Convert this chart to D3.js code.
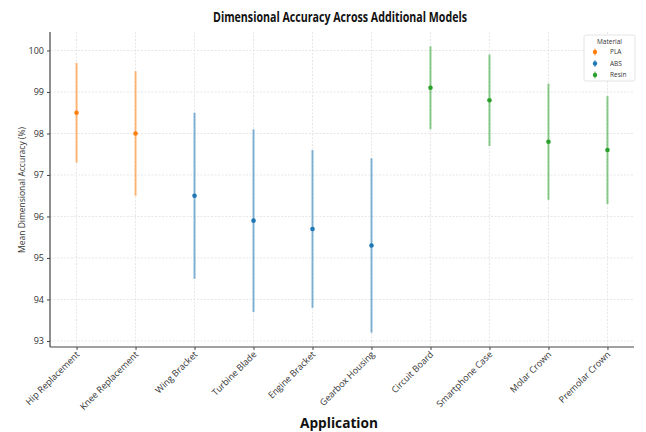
<!DOCTYPE html>
<html><head><meta charset="utf-8">
<script src="https://cdn.jsdelivr.net/npm/d3@7"></script>
<style>body{margin:0;background:#fff}svg{display:block}</style>
</head><body>
<svg id="c" width="646" height="432"></svg>
<script>
const categories = ["Hip Replacement","Knee Replacement","Wing Bracket","Turbine Blade","Engine Bracket","Gearbox Housing","Circuit Board","Smartphone Case","Molar Crown","Premolar Crown"];
const materials = ["PLA","PLA","ABS","ABS","ABS","ABS","Resin","Resin","Resin","Resin"];
const means = [98.5,98.0,96.5,95.9,95.7,95.3,99.1,98.8,97.8,97.6];
const errors = [1.2,1.5,2.0,2.2,1.9,2.1,1.0,1.1,1.4,1.3];
const legendItems = ["PLA","ABS","Resin"];
const yTicks = [93,94,95,96,97,98,99,100];
const colors = {PLA:"#ff7f0e",ABS:"#1f77b4",Resin:"#2ca02c"};

const svg = d3.select("#c");
const L=50,R=634,T=32,B=347;
const x = d3.scaleLinear().domain([-0.45,9.45]).range([L,R]);
const lo = d3.min(means.map((m,i)=>m-errors[i])), hi = d3.max(means.map((m,i)=>m+errors[i]));
const pad=(hi-lo)*0.05;
const y = d3.scaleLinear().domain([lo-pad,hi+pad]).range([B,T]);

// grid
const g = svg.append("g");
g.selectAll(".gy").data(yTicks).join("line").attr("x1",L).attr("x2",R)
 .attr("y1",d=>y(d)).attr("y2",d=>y(d)).attr("stroke","#e0e0e0").attr("stroke-width",0.8).attr("stroke-dasharray","2,1.5");
g.selectAll(".gx").data(categories).join("line").attr("y1",T).attr("y2",B)
 .attr("x1",(d,i)=>x(i)).attr("x2",(d,i)=>x(i)).attr("stroke","#e0e0e0").attr("stroke-width",0.8).attr("stroke-dasharray","2,1.5");

// axes
const ya = svg.append("g").attr("transform",`translate(${L},0)`)
 .call(d3.axisLeft(y).tickValues(yTicks).tickSize(3).tickPadding(3).tickFormat(d3.format("d")));
ya.select(".domain").attr("d",`M0,${T}V${B}`).attr("stroke","#444").attr("stroke-width",1.2);
ya.selectAll(".tick line").attr("stroke","#444");
ya.selectAll("text").attr("font-family","Open Sans, sans-serif").attr("font-size",9).attr("fill","#333");

const xa = svg.append("g").attr("transform",`translate(0,${B})`)
 .call(d3.axisBottom(x).tickValues(d3.range(categories.length)).tickSize(3).tickFormat(i=>categories[i]));
xa.select(".domain").attr("d",`M${L},0H${R}`).attr("stroke","#444").attr("stroke-width",1.2);
xa.selectAll(".tick line").attr("stroke","#444");
xa.selectAll("text").attr("font-family","Open Sans, sans-serif").attr("font-size",9).attr("fill","#333")
 .attr("text-anchor","end").attr("dy",null).attr("y",0)
 .attr("transform","translate(3,8) rotate(-45)");

// error bars
const pts = svg.append("g");
pts.selectAll(".eb").data(means).join("line")
 .attr("x1",(d,i)=>x(i)).attr("x2",(d,i)=>x(i))
 .attr("y1",(d,i)=>y(d-errors[i])).attr("y2",(d,i)=>y(d+errors[i]))
 .attr("stroke",(d,i)=>colors[materials[i]]).attr("stroke-opacity",0.55).attr("stroke-width",2);
pts.selectAll(".pt").data(means).join("circle")
 .attr("cx",(d,i)=>x(i)).attr("cy",d=>y(d)).attr("r",2.3)
 .attr("fill",(d,i)=>colors[materials[i]]);

// title & labels
svg.append("text").attr("x",340).attr("y",22).attr("text-anchor","middle")
 .attr("font-family","Open Sans, sans-serif").attr("font-weight","bold").attr("font-size",13.5).attr("fill","#111")
 .attr("textLength",254).attr("lengthAdjust","spacingAndGlyphs")
 .text("Dimensional Accuracy Across Additional Models");
svg.append("text").attr("x",339).attr("y",428).attr("text-anchor","middle")
 .attr("font-family","Open Sans, sans-serif").attr("font-weight","bold").attr("font-size",13.5).attr("fill","#111")
 .attr("textLength",78).attr("lengthAdjust","spacingAndGlyphs")
 .text("Application");
svg.append("text").attr("transform","translate(25,190) rotate(-90)").attr("text-anchor","middle")
 .attr("font-family","Open Sans, sans-serif").attr("font-size",8.5).attr("fill","#333")
 .text("Mean Dimensional Accuracy (%)");

// legend
const lg = svg.append("g").attr("transform","translate(584,35)");
lg.append("rect").attr("width",51).attr("height",46).attr("rx",2).attr("fill","#fff").attr("stroke","#ddd").attr("stroke-width",0.8);
lg.append("text").attr("x",25.5).attr("y",9).attr("text-anchor","middle")
 .attr("font-family","Open Sans, sans-serif").attr("font-size",6.5).attr("fill","#333").text("Material");
const li = lg.selectAll(".li").data(legendItems).join("g").attr("transform",(d,i)=>`translate(0,${17+i*11.5})`);
li.append("line").attr("x1",11).attr("x2",11).attr("y1",-3.5).attr("y2",3.5)
 .attr("stroke",d=>colors[d]).attr("stroke-opacity",0.55).attr("stroke-width",1.5);
li.append("circle").attr("cx",11).attr("cy",0).attr("r",2.2).attr("fill",d=>colors[d]);
li.append("text").attr("x",26).attr("y",2.3)
 .attr("font-family","Open Sans, sans-serif").attr("font-size",6.5).attr("fill","#333").text(d=>d);
</script>
</body></html>
